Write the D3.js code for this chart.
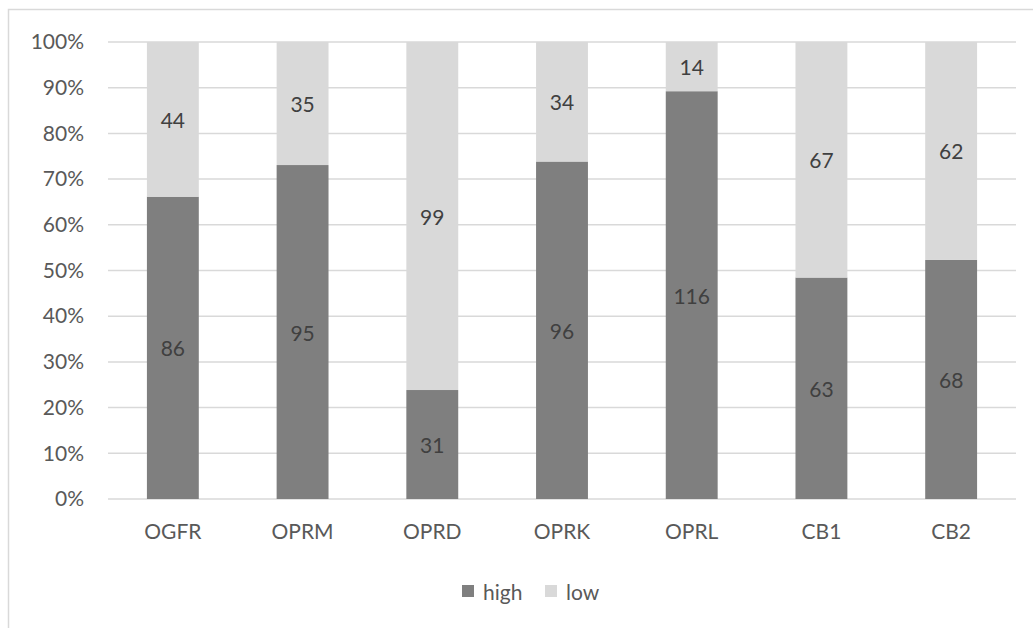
<!DOCTYPE html>
<html>
<head>
<meta charset="utf-8">
<script src="https://cdn.jsdelivr.net/npm/d3@7"></script>
<style>
  html, body { margin: 0; padding: 0; background: #fff; }
  svg { display: block; font-family: Lato, "Open Sans", sans-serif; }
</style>
</head>
<body>
<svg id="chart" width="1033" height="628"></svg>
<script>
// Receptor categories and counts per group
const categories = ["OGFR", "OPRM", "OPRD", "OPRK", "OPRL", "CB1", "CB2"];
const highValues = [86, 95, 31, 96, 116, 63, 68];
const lowValues  = [44, 35, 99, 34, 14, 67, 62];
const seriesNames = ["high", "low"];
const yTicks = [0, 0.1, 0.2, 0.3, 0.4, 0.5, 0.6, 0.7, 0.8, 0.9, 1.0];

const colors = { high: "#7f7f7f", low: "#d9d9d9" };
const FONT = "21px";

const svg = d3.select("#chart");
const W = 1033, H = 628;

// Outer chart frame (extends past the right and bottom edges)
svg.append("rect")
  .attr("x", 8.5).attr("y", 9.5)
  .attr("width", W + 10).attr("height", H + 10)
  .attr("fill", "#fff")
  .attr("stroke", "#d9d9d9")
  .attr("stroke-width", 1.5);

const plot = { left: 108, right: 1016, top: 42, bottom: 499 };

const rows = categories.map((c, i) => ({ cat: c, high: highValues[i], low: lowValues[i] }));
const stacked = d3.stack().keys(seriesNames).offset(d3.stackOffsetExpand)(rows);

const x = d3.scaleBand().domain(categories).range([plot.left, plot.right]).paddingInner(0.6).paddingOuter(0.3);
const y = d3.scaleLinear().domain([0, 1]).range([plot.bottom, plot.top]);

// Gridlines
svg.append("g")
  .selectAll("line")
  .data(yTicks)
  .join("line")
  .attr("x1", plot.left).attr("x2", plot.right)
  .attr("y1", d => y(d)).attr("y2", d => y(d))
  .attr("stroke", "#d9d9d9").attr("stroke-width", 1.5);

// Y axis labels
const yAxis = d3.axisLeft(y).tickValues(yTicks).tickFormat(d3.format(".0%")).tickSize(0).tickPadding(0);
const yg = svg.append("g").attr("transform", `translate(${plot.left - 24},0)`).call(yAxis);
yg.select(".domain").remove();
yg.selectAll("text").attr("fill", "#595959").style("font-size", FONT).style("font-family", "Lato, sans-serif");

// X axis labels
const xAxis = d3.axisBottom(x).tickSize(0).tickPadding(0);
const xg = svg.append("g").attr("transform", `translate(0,${plot.bottom + 25})`).call(xAxis);
xg.select(".domain").remove();
xg.selectAll("text").attr("fill", "#595959").style("font-size", FONT).style("font-family", "Lato, sans-serif");

// Stacked bars
const layers = svg.append("g").selectAll("g")
  .data(stacked)
  .join("g")
  .attr("fill", d => colors[d.key]);

layers.selectAll("rect")
  .data(d => d)
  .join("rect")
  .attr("x", d => x(d.data.cat))
  .attr("width", x.bandwidth())
  .attr("y", d => y(d[1]))
  .attr("height", d => y(d[0]) - y(d[1]));

// Data labels centred on each segment
layers.selectAll("text")
  .data(d => d.map(v => ({ v, key: d.key })))
  .join("text")
  .attr("x", d => x(d.v.data.cat) + x.bandwidth() / 2)
  .attr("y", d => (y(d.v[0]) + y(d.v[1])) / 2)
  .attr("text-anchor", "middle")
  .attr("dominant-baseline", "central")
  .attr("fill", "#404040")
  .style("font-size", FONT)
  .text(d => d.v.data[d.key]);

// Legend
const legend = svg.append("g").attr("transform", "translate(462,591)");
const legendItems = [
  { key: "high", x: 0 },
  { key: "low", x: 83 }
];
legendItems.forEach(item => {
  legend.append("rect")
    .attr("x", item.x).attr("y", -6)
    .attr("width", 12).attr("height", 12)
    .attr("fill", colors[item.key]);
  legend.append("text")
    .attr("x", item.x + 21).attr("y", 0)
    .attr("dominant-baseline", "central")
    .attr("fill", "#595959")
    .style("font-size", FONT)
    .text(item.key);
});
</script>
</body>
</html>
